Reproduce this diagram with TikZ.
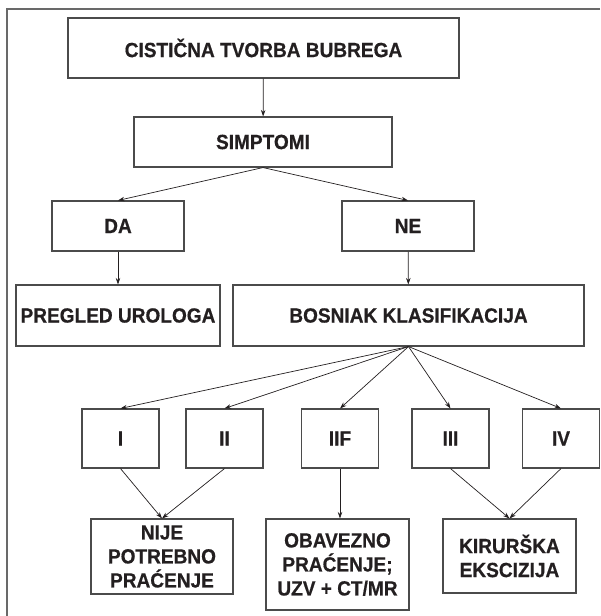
\documentclass[tikz,border=0pt]{standalone}
\usepackage{fontspec}
\setmainfont{Liberation Sans}[FakeStretch=0.93, BoldFeatures={FakeBold=0.6}]
\usepackage{tikz}
\usetikzlibrary{arrows.meta,positioning}
\definecolor{boxgray}{RGB}{75,75,75}
\definecolor{framegray}{RGB}{105,105,105}
\definecolor{inkblack}{RGB}{35,31,32}

\begin{document}
\begin{tikzpicture}[
    x=1pt, y=-1pt,
    box/.style={draw=boxgray, line width=1.1pt, inner sep=0pt, align=center, text=inkblack, font=\fontsize{20.5}{24}\selectfont\bfseries},
    klasa/.style={box, minimum width=77pt, minimum height=59pt},
    arrow/.style={-{Stealth[length=6.5pt, width=4.5pt]}, line width=0.7pt, draw=inkblack}
  ]
    \useasboundingbox (0,0) rectangle (600,616);
    \draw[framegray, line width=2pt] (600,9) -- (7,9) -- (7,616);

    \node[box, minimum width=391pt, minimum height=60pt] (cist) at (263.5,48) {CISTIČNA TVORBA BUBREGA};
    \node[box, minimum width=258pt, minimum height=50pt] (simpt) at (263,142) {SIMPTOMI};
    \node[box, minimum width=132pt, minimum height=50pt] (da) at (118,226) {DA};
    \node[box, minimum width=132pt, minimum height=50pt] (ne) at (408,226) {NE};
    \node[box, minimum width=204pt, minimum height=61pt] (pregled) at (118,315.5) {PREGLED UROLOGA};
    \node[box, minimum width=351pt, minimum height=61pt] (bosniak) at (408.5,315.5) {BOSNIAK KLASIFIKACIJA};

    \node[klasa] (kI) at (120.5,438.5) {I};
    \node[klasa] (kII) at (224.5,438.5) {II};
    \node[klasa] (kIIF) at (340,438.5) {IIF};
    \node[klasa] (kIII) at (450.5,438.5) {III};
    \node[klasa] (kIV) at (561,438.5) {IV};

    \node[box, minimum width=142pt, minimum height=75pt] (nije) at (162,556.5) {NIJE\\POTREBNO\\PRAĆENJE};
    \node[box, minimum width=143pt, minimum height=91pt] (pracenje) at (337.5,564.5) {OBAVEZNO\\PRAĆENJE;\\UZV + CT/MR};
    \node[box, minimum width=133pt, minimum height=74pt] (ekscizija) at (509.5,556) {KIRURŠKA\\EKSCIZIJA};

    \draw[arrow] (cist) -- (simpt);
    \draw[arrow] (simpt.south) -- (da.north);
    \draw[arrow] (simpt.south) -- (ne.north);
    \draw[arrow] (da) -- (pregled);
    \draw[arrow] (ne) -- (bosniak);
    \draw[arrow] (bosniak.south) -- (kI.north);
    \draw[arrow] (bosniak.south) -- (kII.north);
    \draw[arrow] (bosniak.south) -- (kIIF.north);
    \draw[arrow] (bosniak.south) -- (kIII.north);
    \draw[arrow] (bosniak.south) -- (kIV.north);
    \draw[arrow] (kI.south) -- (nije.north);
    \draw[arrow] (kII.south) -- (nije.north);
    \draw[arrow] (kIIF.south) -- (kIIF.south |- pracenje.north);
    \draw[arrow] (kIII.south) -- (ekscizija.north);
    \draw[arrow] (kIV.south) -- (ekscizija.north);
  \end{tikzpicture}
\end{document}
